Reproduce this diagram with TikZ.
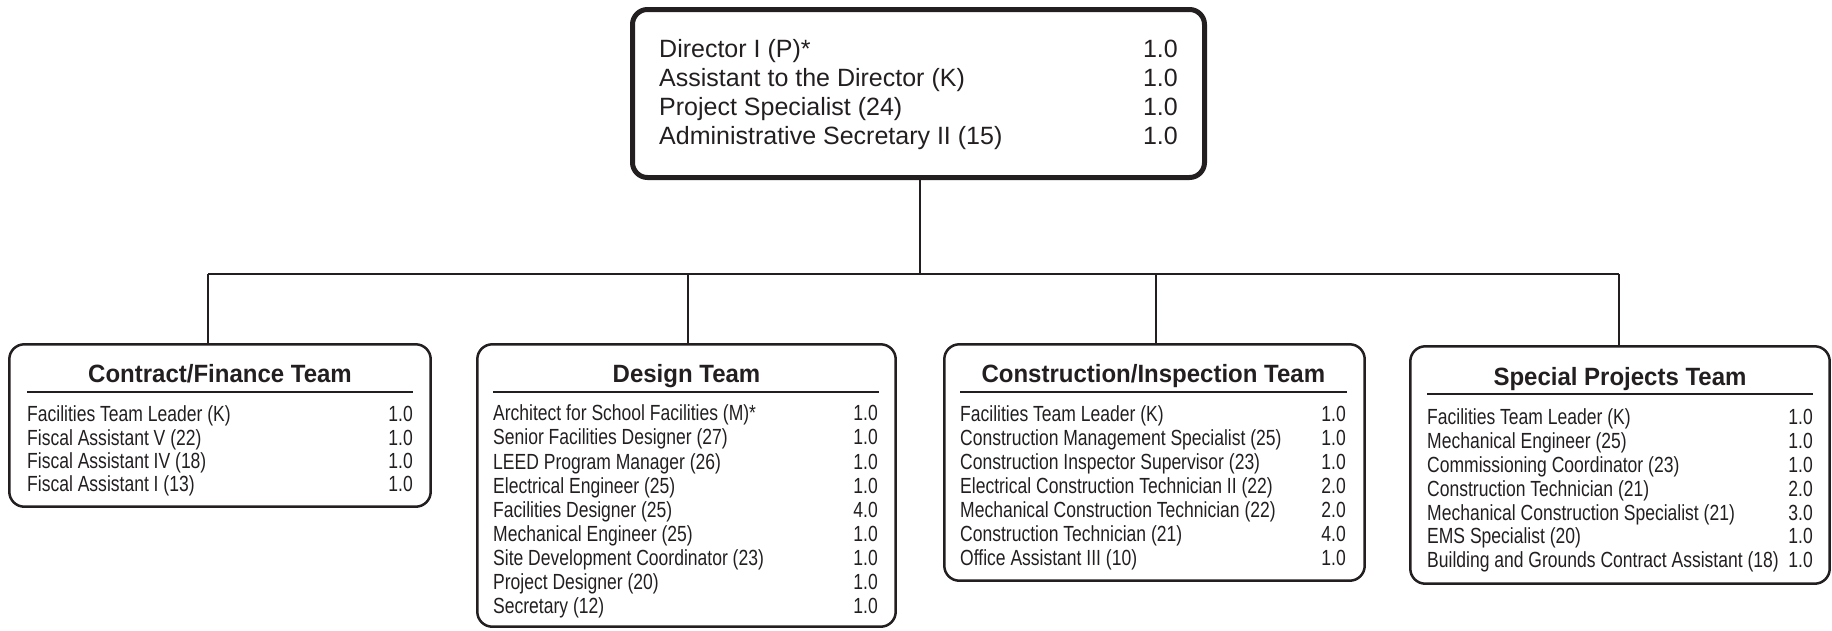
\documentclass[tikz,border=0pt]{standalone}
\usepackage{fontspec}
\setmainfont{Liberation Sans}
\newfontfamily\bodyf[FakeStretch=0.8]{Liberation Sans}
\newfontfamily\topf[FakeStretch=1.0]{Liberation Sans}
\newfontfamily\titlef[FakeStretch=0.96]{Liberation Sans}
\definecolor{ink}{RGB}{35,31,32}
\tikzset{
  body/.style={font=\bodyf\fontsize{21.9pt}{24pt}\selectfont, inner sep=0pt, text=ink},
  toptext/.style={font=\topf\fontsize{25pt}{29pt}\selectfont, inner sep=0pt, text=ink},
  teamtitle/.style={font=\titlef\bfseries\fontsize{25pt}{29pt}\selectfont, inner sep=0pt, text=ink, anchor=base},
  teambox/.style={draw=ink, line width=2.5pt, rounded corners=15pt, inner sep=0pt, rectangle},
  topbox/.style={draw=ink, line width=5pt, rounded corners=15pt, inner sep=0pt, rectangle},
  rule/.style={draw=ink, line width=1.3pt},
  link/.style={draw=ink, line width=2.5pt}
}
\begin{document}
\begin{tikzpicture}[x=1pt, y=-1pt]
\useasboundingbox (0,0) rectangle (1832,630);

% top box
\node[topbox, minimum width=572pt, minimum height=168pt] (dir) at (918.5,93.5) {};
\foreach \t/\n [count=\i from 0] in {Director I (P)*/1.0, Assistant to the Director (K)/1.0, Project Specialist (24)/1.0, Administrative Secretary II (15)/1.0}{
  \node[toptext, anchor=base west] (dt\i) at (659,{57.3+29*\i}) {\t};
  \node[toptext, anchor=base east] (dn\i) at (1178,{57.3+29*\i}) {\n};
}

% team boxes
\node[teambox, minimum width=421.4pt, minimum height=162.4pt] (cf) at (220,425.5) {};
\node[teambox, minimum width=418.4pt, minimum height=282.4pt] (de) at (686.5,485.5) {};
\node[teambox, minimum width=420.4pt, minimum height=236.4pt] (ci) at (1154.5,462.5) {};
\node[teambox, minimum width=419.4pt, minimum height=237.4pt] (sp) at (1620,465) {};

% connectors
\coordinate (hub) at (920,274);
\coordinate (d1) at (208,274);
\coordinate (d2) at (688,274);
\coordinate (d3) at (1156,274);
\coordinate (d4) at (1619,274);
\draw[link] (hub |- dir.south) -- (hub);
\draw[link] (d1) -- (d4);
\draw[link] (d1) -- (d1 |- cf.north);
\draw[link] (d2) -- (d2 |- de.north);
\draw[link] (d3) -- (d3 |- ci.north);
\draw[link] (d4) -- (d4 |- sp.north);

% Contract/Finance
\node[teamtitle] (cft) at (220,382) {Contract/Finance Team};
\draw[rule] (27,392) -- (413,392);
\foreach \t/\n [count=\i from 0] in {Facilities Team Leader (K)/1.0, Fiscal Assistant V (22)/1.0, Fiscal Assistant IV (18)/1.0, Fiscal Assistant I (13)/1.0}{
  \node[body, anchor=base west] (cfl\i) at (27,{421.7+23.3*\i}) {\t};
  \node[body, anchor=base east] (cfn\i) at (413,{421.7+23.3*\i}) {\n};
}

% Design
\node[teamtitle] (det) at (686.5,382) {Design Team};
\draw[rule] (493,392) -- (879,392);
\foreach \t/\n [count=\i from 0] in {Architect for School Facilities (M)*/1.0, Senior Facilities Designer (27)/1.0, LEED Program Manager (26)/1.0, Electrical Engineer (25)/1.0, Facilities Designer (25)/4.0, Mechanical Engineer (25)/1.0, Site Development Coordinator (23)/1.0, Project Designer (20)/1.0, Secretary (12)/1.0}{
  \node[body, anchor=base west] (del\i) at (493,{420.8+24.1*\i}) {\t};
  \node[body, anchor=base east] (den\i) at (878,{420.8+24.1*\i}) {\n};
}

% Construction/Inspection
\node[teamtitle] (cit) at (1153.3,382) {Construction/Inspection Team};
\draw[rule] (960,392) -- (1347,392);
\foreach \t/\n [count=\i from 0] in {Facilities Team Leader (K)/1.0, Construction Management Specialist (25)/1.0, Construction Inspector Supervisor (23)/1.0, Electrical Construction Technician II (22)/2.0, Mechanical Construction Technician (22)/2.0, Construction Technician (21)/4.0, Office Assistant III (10)/1.0}{
  \node[body, anchor=base west] (cil\i) at (960,{421.8+24*\i}) {\t};
  \node[body, anchor=base east] (cin\i) at (1346,{421.8+24*\i}) {\n};
}

% Special Projects
\node[teamtitle] (spt) at (1620,385) {Special Projects Team};
\draw[rule] (1427,394) -- (1813,394);
\foreach \t/\n [count=\i from 0] in {Facilities Team Leader (K)/1.0, Mechanical Engineer (25)/1.0, Commissioning Coordinator (23)/1.0, Construction Technician (21)/2.0, Mechanical Construction Specialist (21)/3.0, EMS Specialist (20)/1.0, Building and Grounds Contract Assistant (18)/1.0}{
  \node[body, anchor=base west] (spl\i) at (1427,{424.8+23.8*\i}) {\t};
  \node[body, anchor=base east] (spn\i) at (1813,{424.8+23.8*\i}) {\n};
}
\end{tikzpicture}
\end{document}
